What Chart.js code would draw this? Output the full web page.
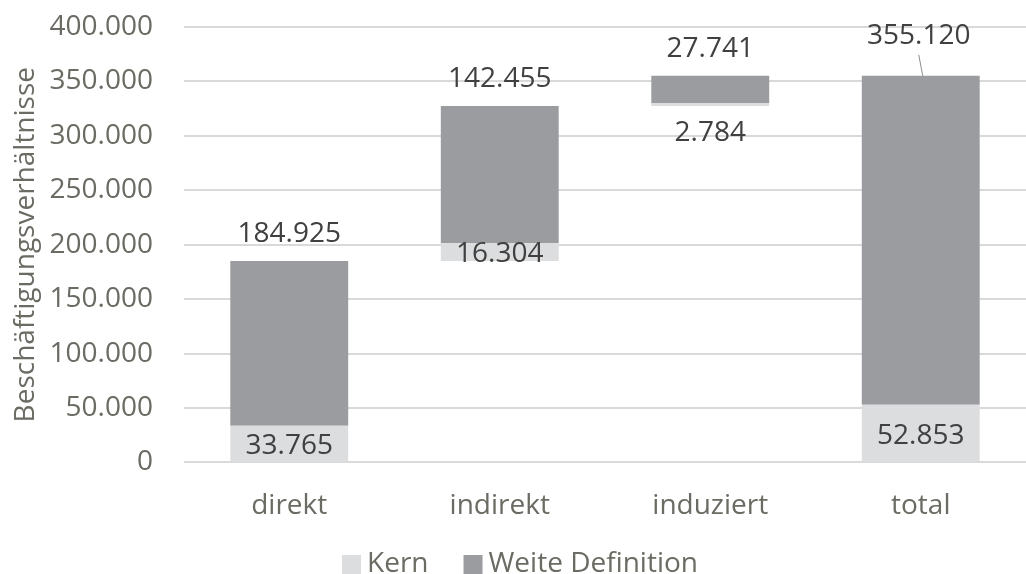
<!DOCTYPE html>
<html lang="de">
<head>
    <meta charset="UTF-8">
    <title>Beschäftigungsverhältnisse</title>
    <style>
        body { margin: 0; background: #fff; }
        #chart { display: block; }
    </style>
</head>
<body>
    <canvas id="chart" width="1026" height="574"></canvas>
    <script src="https://cdn.jsdelivr.net/npm/chart.js"></script>
    <script>
        // Werte aus der Vorlage
        const categories = ['direkt', 'indirekt', 'induziert', 'total'];
        const kernValues = [33765, 16304, 2784, 52853];
        const weiteValues = [184925, 142455, 27741, 355120];
        const yTicks = [0, 50000, 100000, 150000, 200000, 250000, 300000, 350000, 400000];

        const fmt = v => String(v).replace(/\B(?=(\d{3})+(?!\d))/g, '.');

        // Wasserfall: jede Kategorie beginnt dort, wo die vorige aufhört; "total" beginnt bei 0
        const bases = [];
        let running = 0;
        categories.forEach((c, i) => {
            if (i === categories.length - 1) { bases.push(0); return; }
            bases.push(running);
            running += weiteValues[i];
        });
        const kernBars = kernValues.map((v, i) => [bases[i], bases[i] + v]);
        const weiteBars = weiteValues.map((v, i) => [bases[i] + kernValues[i], bases[i] + v]);

        const textColor = '#6b6b63';
        const labelColor = '#404040';
        const font = { family: "'Open Sans', 'Noto Sans', sans-serif", size: 28 };
        const cssFont = `${font.size}px ${font.family}`;

        // Datenbeschriftungen
        const labelPlugin = {
            id: 'valueLabels',
            afterDatasetsDraw(chart) {
                const ctx = chart.ctx;
                const y = chart.scales.y;
                ctx.save();
                ctx.font = cssFont;
                ctx.fillStyle = labelColor;
                ctx.textAlign = 'center';
                ctx.textBaseline = 'middle';
                const kernMeta = chart.getDatasetMeta(0);
                const weiteMeta = chart.getDatasetMeta(1);
                categories.forEach((c, i) => {
                    const kb = kernMeta.data[i];
                    const wb = weiteMeta.data[i];
                    // Kern
                    let ky = (y.getPixelForValue(kernBars[i][0]) + y.getPixelForValue(kernBars[i][1])) / 2 + 2;
                    if (kernValues[i] < 10000) ky = y.getPixelForValue(kernBars[i][0]) + 27;
                    ctx.fillText(fmt(kernValues[i]), kb.x, ky);
                    // Weite Definition
                    const top = y.getPixelForValue(weiteBars[i][1]);
                    if (i === categories.length - 1) {
                        ctx.fillText(fmt(weiteValues[i]), wb.x - 2, top - 40);
                        ctx.strokeStyle = '#8c8c8c';
                        ctx.lineWidth = 1;
                        ctx.beginPath();
                        ctx.moveTo(wb.x - 2, top - 21);
                        ctx.lineTo(wb.x + 2, top);
                        ctx.stroke();
                    } else {
                        ctx.fillText(fmt(weiteValues[i]), wb.x, top - 27);
                    }
                });
                ctx.restore();
            }
        };

        // Legende unten, wie in der Vorlage eng gesetzt
        const legendPlugin = {
            id: 'bottomLegend',
            afterDraw(chart) {
                const ctx = chart.ctx;
                const box = 19, gap = 6, itemGap = 35;
                const items = chart.data.datasets.map(ds => ({ text: ds.label, color: ds.backgroundColor }));
                ctx.save();
                ctx.font = cssFont;
                const widths = items.map(it => box + gap + ctx.measureText(it.text).width);
                const total = widths.reduce((a, b) => a + b, 0) + itemGap * (items.length - 1);
                let x = 520 - total / 2;
                ctx.textBaseline = 'alphabetic';
                ctx.textAlign = 'left';
                items.forEach((it, i) => {
                    ctx.fillStyle = it.color;
                    ctx.fillRect(x, 555, box, box);
                    ctx.fillStyle = textColor;
                    ctx.fillText(it.text, x + box + gap, 572);
                    x += widths[i] + itemGap;
                });
                ctx.restore();
            }
        };

        new Chart(document.getElementById('chart'), {
            type: 'bar',
            data: {
                labels: categories,
                datasets: [
                    { label: 'Kern', data: kernBars, backgroundColor: '#dcddde', barPercentage: 0.56, categoryPercentage: 1 },
                    { label: 'Weite Definition', data: weiteBars, backgroundColor: '#9b9c9f', barPercentage: 0.56, categoryPercentage: 1 }
                ]
            },
            plugins: [labelPlugin, legendPlugin],
            options: {
                responsive: false,
                animation: false,
                layout: { padding: { top: 27, right: 0, left: 9, bottom: 24 } },
                plugins: {
                    tooltip: { enabled: false },
                    legend: { display: false }
                },
                scales: {
                    x: {
                        stacked: true,
                        grid: { display: false, drawTicks: false },
                        border: { display: false },
                        ticks: { color: textColor, font: font, padding: 27 }
                    },
                    y: {
                        stacked: false,
                        min: 0,
                        max: 400000,
                        afterBuildTicks: axis => { axis.ticks = yTicks.map(v => ({ value: v })); },
                        afterFit: axis => { axis.width = 175; axis.paddingTop = 0; axis.paddingBottom = 0; },
                        grid: { color: '#d9d9d9', lineWidth: 2, drawTicks: false },
                        border: { display: false },
                        ticks: { color: textColor, font: font, padding: 31, callback: v => fmt(v) },
                        title: { display: true, text: 'Beschäftigungsverhältnisse', color: textColor, font: font, padding: 0 }
                    }
                }
            }
        });
    </script>
</body>
</html>
